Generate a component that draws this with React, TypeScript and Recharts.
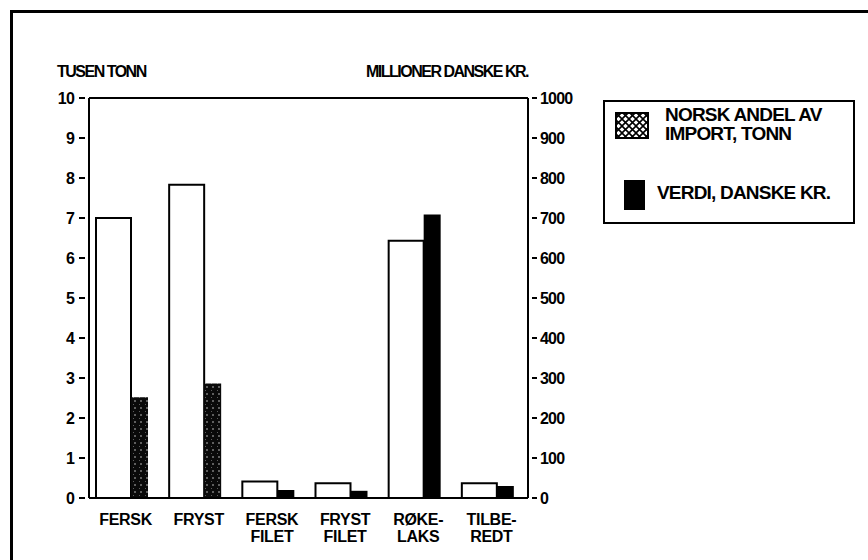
import { BarChart, Bar, Cell, XAxis, YAxis, ReferenceLine } from 'recharts'

const categories = ['FERSK', 'FRYST', 'FERSK\nFILET', 'FRYST\nFILET', 'RØKE-\nLAKS', 'TILBE-\nREDT']
const tonn = [7.0, 7.83, 0.41, 0.37, 6.43, 0.37]
const verdi = [252, 286, 20, 18, 709, 30]
const speckled = [true, true, false, false, false, false]
const leftTicks = [0, 1, 2, 3, 4, 5, 6, 7, 8, 9, 10]
const rightTicks = [0, 100, 200, 300, 400, 500, 600, 700, 800, 900, 1000]

const data = categories.map((name, i) => ({ name, tonn: tonn[i], verdi: verdi[i] }))

const font = '"Liberation Sans", Arial, sans-serif'
const textStyle = { fontFamily: font, fontWeight: 700, fontSize: 16, fill: '#000', letterSpacing: -0.8 }
const catStyle = { ...textStyle, fontSize: 16, letterSpacing: -0.3 }

function CategoryTick({ x, y, payload }: any) {
  const lines = String(payload.value).split('\n')
  return (
    <text x={x} y={y} textAnchor="middle" style={catStyle}>
      {lines.map((l, i) => (
        <tspan key={i} x={x} dy={i === 0 ? 19 : 17}>{l}</tspan>
      ))}
    </text>
  )
}

function LeftTick({ x, y, payload }: any) {
  return (
    <g>
      <line x1={x - 10} x2={x - 4} y1={y} y2={y} stroke="#000" strokeWidth={2} />
      <text x={x - 15} y={y} dy={6} textAnchor="end" style={textStyle}>{payload.value}</text>
    </g>
  )
}

function RightTick({ x, y, payload }: any) {
  return (
    <g>
      <line x1={x + 4} x2={x + 9} y1={y} y2={y} stroke="#000" strokeWidth={2} />
      <text x={x + 12} y={y} dy={6} textAnchor="start" style={textStyle}>{payload.value}</text>
    </g>
  )
}

function LegendBox() {
  return (
    <div style={{ position: 'absolute', left: 603, top: 100, width: 252, height: 124, border: '2px solid #000', boxSizing: 'border-box', fontFamily: font, fontWeight: 700, fontSize: 19, letterSpacing: -0.8, color: '#000' }}>
      <svg width={34} height={27} style={{ position: 'absolute', left: 10, top: 10 }}>
        <defs>
          <pattern id="hatch" width="7" height="7" patternUnits="userSpaceOnUse">
            <rect width="7" height="7" fill="#fff" />
            <path d="M0,0 L7,7 M7,0 L0,7" stroke="#000" strokeWidth="1.6" />
          </pattern>
        </defs>
        <rect x={1} y={1} width={32} height={25} fill="url(#hatch)" stroke="#000" strokeWidth={2} />
      </svg>
      <div style={{ position: 'absolute', left: 60, top: 3, lineHeight: '19px' }}>
        NORSK ANDEL AV<br />IMPORT, TONN
      </div>
      <div style={{ position: 'absolute', left: 19, top: 78, width: 21, height: 30, background: '#000' }} />
      <div style={{ position: 'absolute', left: 52, top: 80 }}>VERDI, DANSKE KR.</div>
    </div>
  )
}

export default function App() {
  return (
    <div style={{ position: 'fixed', left: 0, top: 0, width: 868, height: 560, background: '#fff', overflow: 'hidden' }}>
      <div style={{ position: 'absolute', left: 10, top: 10, width: 900, height: 600, border: '3px solid #000' }} />
      <BarChart
        width={868}
        height={560}
        data={data}
        margin={{ top: 98, right: 290, left: 39, bottom: 12 }}
        barGap={0}
        style={{ position: 'absolute', left: 0, top: 0 }}
      >
        <defs>
          <pattern id="speckle" width="6" height="7" patternUnits="userSpaceOnUse">
            <rect width="6" height="7" fill="#0a0a0a" />
            <circle cx="3" cy="2" r="0.8" fill="#ccc" />
            <circle cx="1.5" cy="5.5" r="0.5" fill="#777" />
          </pattern>
        </defs>
        <XAxis
          dataKey="name"
          interval={0}
          tickLine={false}
          axisLine={{ stroke: '#000', strokeWidth: 2 }}
          tick={<CategoryTick />}
          height={50}
        />
        <YAxis
          yAxisId="left"
          domain={[0, 10]}
          ticks={leftTicks}
          width={50}
          tickSize={0}
          tickMargin={0}
          tickLine={false}
          axisLine={{ stroke: '#000', strokeWidth: 2 }}
          tick={<LeftTick />}
        />
        <YAxis
          yAxisId="right"
          orientation="right"
          domain={[0, 1000]}
          ticks={rightTicks}
          width={50}
          tickSize={0}
          tickMargin={0}
          tickLine={false}
          axisLine={{ stroke: '#000', strokeWidth: 2 }}
          tick={<RightTick />}
        />
        <ReferenceLine yAxisId="left" y={10} stroke="#000" strokeWidth={2} />
        <Bar yAxisId="left" dataKey="tonn" barSize={35} fill="#fff" stroke="#000" strokeWidth={2} isAnimationActive={false} />
        <Bar yAxisId="right" dataKey="verdi" barSize={17} fill="#000" isAnimationActive={false}>
          {data.map((d, i) => (
            <Cell key={d.name} fill={speckled[i] ? 'url(#speckle)' : '#000'} />
          ))}
        </Bar>
        <Bar yAxisId="left" dataKey={() => 0} barSize={7} fill="none" isAnimationActive={false} />
      </BarChart>
      <div style={{ position: 'absolute', left: 57, top: 63, fontFamily: font, fontWeight: 700, fontSize: 16, letterSpacing: -1.5 }}>TUSEN TONN</div>
      <div style={{ position: 'absolute', right: 868 - 528, top: 63, fontFamily: font, fontWeight: 700, fontSize: 16, letterSpacing: -1.5 }}>MILLIONER DANSKE KR.</div>
      <LegendBox />
    </div>
  )
}
